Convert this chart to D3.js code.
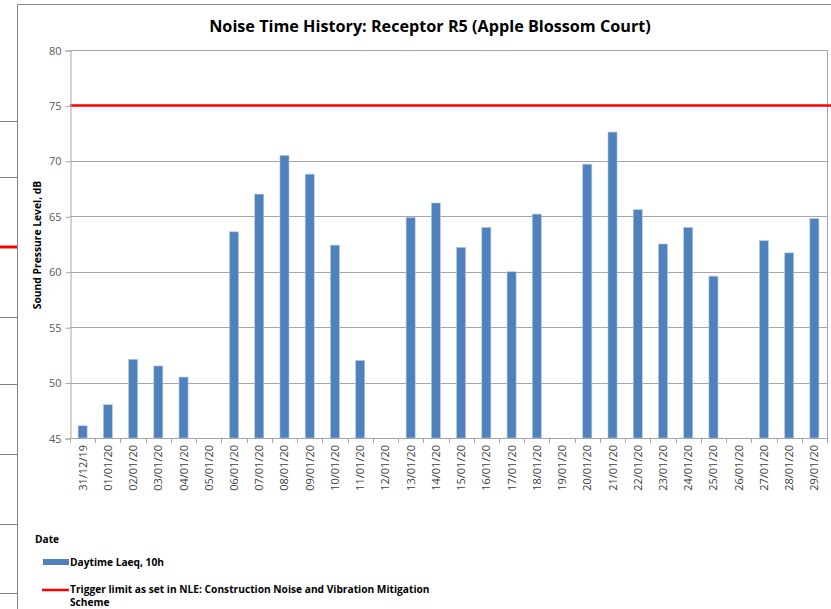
<!DOCTYPE html>
<html>
<head>
<meta charset="utf-8">
<script src="https://cdn.jsdelivr.net/npm/d3@7"></script>
<style>
  body { margin: 0; background: #fff; }
  svg { display: block; font-family: "Open Sans", "Liberation Sans", sans-serif; }
</style>
</head>
<body>
<svg id="chart"></svg>
<script>
let dates = ["31/12/19", "01/01/20", "02/01/20", "03/01/20", "04/01/20", "05/01/20", "06/01/20",
  "07/01/20", "08/01/20", "09/01/20", "10/01/20", "11/01/20", "12/01/20", "13/01/20", "14/01/20",
  "15/01/20", "16/01/20", "17/01/20", "18/01/20", "19/01/20", "20/01/20", "21/01/20", "22/01/20",
  "23/01/20", "24/01/20", "25/01/20", "26/01/20", "27/01/20", "28/01/20", "29/01/20"];
let laeq = [46.1, 48.0, 52.1, 51.5, 50.5, null, 63.6, 67.0, 70.5, 68.8, 62.4, 52.0, null, 64.9, 66.2,
  62.2, 64.0, 60.0, 65.2, null, 69.7, 72.6, 65.6, 62.5, 64.0, 59.6, null, 62.8, 61.7, 64.8];
let triggerLimit = 75;
let yTicks = [45, 50, 55, 60, 65, 70, 75, 80];

let width = 831;
let height = 609;
let plotLeft = 70, plotRight = 827, plotTop = 50, plotBottom = 438;

let svg = d3.select("#chart").attr("width", width).attr("height", height);

// bits of the neighbouring chart showing at the left edge
let strayLines = [121, 177, 317, 384, 454, 524, 593];
svg.selectAll(".stray").data(strayLines).enter().append("line")
  .attr("x1", 0).attr("x2", 17).attr("y1", d => d + 0.5).attr("y2", d => d + 0.5)
  .attr("stroke", "#808080").attr("stroke-width", 1);
svg.append("line").attr("x1", 0).attr("x2", 17).attr("y1", 247).attr("y2", 247)
  .attr("stroke", "#ff0000").attr("stroke-width", 3);

// chart frame
svg.append("line").attr("x1", 17.5).attr("x2", 17.5).attr("y1", 4.5).attr("y2", height)
  .attr("stroke", "#868686");
svg.append("line").attr("x1", 17.5).attr("x2", width).attr("y1", 4.5).attr("y2", 4.5)
  .attr("stroke", "#868686");

let xScale = d3.scaleBand().domain(dates).range([plotLeft, plotRight]).paddingInner(0.64).paddingOuter(0.32);
let yScale = d3.scaleLinear().domain([45, 80]).range([plotBottom, plotTop]);

// gridlines
svg.append("g").selectAll("line").data(yTicks).enter().append("line")
  .attr("x1", plotLeft).attr("x2", plotRight)
  .attr("y1", d => Math.round(yScale(d)) + 0.5).attr("y2", d => Math.round(yScale(d)) + 0.5)
  .attr("stroke", "#a6a6a6");
svg.append("line").attr("x1", plotRight + 0.5).attr("x2", plotRight + 0.5).attr("y1", plotTop).attr("y2", plotBottom)
  .attr("stroke", "#a6a6a6");

// bars
svg.append("g").selectAll("rect").data(laeq.map((v, i) => ({ d: dates[i], v: v })).filter(o => o.v != null))
  .enter().append("rect")
  .attr("x", o => xScale(o.d))
  .attr("width", xScale.bandwidth())
  .attr("y", o => yScale(o.v))
  .attr("height", o => yScale(45) - yScale(o.v))
  .attr("fill", "#4f81bd")
  .attr("stroke", "#b9cde5").attr("stroke-width", 0.6);

// trigger line
svg.append("line").attr("x1", plotLeft).attr("x2", width)
  .attr("y1", yScale(triggerLimit)).attr("y2", yScale(triggerLimit))
  .attr("stroke", "#ff0000").attr("stroke-width", 2.5);

// y axis
let yAxis = d3.axisLeft(yScale).tickValues(yTicks).tickSize(5).tickPadding(4);
let gy = svg.append("g").attr("transform", "translate(" + (plotLeft + 0.5) + ",0.5)").call(yAxis);
gy.select(".domain").attr("stroke", "#a6a6a6");
gy.selectAll(".tick line").attr("stroke", "#a6a6a6");
gy.selectAll("text").attr("fill", "#595959").style("font-size", "11px")
  .style("font-family", "'Open Sans', sans-serif");

// x axis: ticks sit on category boundaries
let boundaries = d3.range(dates.length + 1).map(i => plotLeft + i * (plotRight - plotLeft) / dates.length);
svg.append("line").attr("x1", plotLeft).attr("x2", plotRight).attr("y1", plotBottom + 0.5).attr("y2", plotBottom + 0.5)
  .attr("stroke", "#a6a6a6");
svg.append("g").selectAll("line").data(boundaries).enter().append("line")
  .attr("x1", d => Math.round(d) + 0.5).attr("x2", d => Math.round(d) + 0.5)
  .attr("y1", plotBottom).attr("y2", plotBottom + 5).attr("stroke", "#a6a6a6");
svg.append("g").selectAll("text").data(dates).enter().append("text")
  .attr("transform", d => "translate(" + (xScale(d) + xScale.bandwidth() / 2 + 4) + "," + (plotBottom + 7) + ") rotate(-90)")
  .attr("text-anchor", "end")
  .attr("fill", "#404040")
  .style("font-size", "11px")
  .text(d => d);

// title
svg.append("text").attr("x", 430).attr("y", 32).attr("text-anchor", "middle")
  .style("font-size", "16.2px").style("font-weight", "bold").attr("fill", "#000")
  .text("Noise Time History: Receptor R5 (Apple Blossom Court)");

// y label
svg.append("text").attr("transform", "translate(41,245) rotate(-90)").attr("text-anchor", "middle")
  .style("font-size", "10.3px").style("font-weight", "bold")
  .text("Sound Pressure Level, dB");

// legend
let legendFont = "10.2px";
svg.append("text").attr("x", 35).attr("y", 543).style("font-size", legendFont).style("font-weight", "bold")
  .text("Date");
svg.append("rect").attr("x", 43).attr("y", 559).attr("width", 26).attr("height", 6).attr("fill", "#4f81bd");
svg.append("text").attr("x", 70).attr("y", 566).style("font-size", legendFont).style("font-weight", "bold")
  .text("Daytime Laeq, 10h");
svg.append("line").attr("x1", 42).attr("x2", 69).attr("y1", 590).attr("y2", 590)
  .attr("stroke", "#ff0000").attr("stroke-width", 2.5);
svg.append("text").attr("x", 70).attr("y", 593).style("font-size", legendFont).style("font-weight", "bold")
  .text("Trigger limit as set in NLE: Construction Noise and Vibration Mitigation");
svg.append("text").attr("x", 70).attr("y", 606).style("font-size", legendFont).style("font-weight", "bold")
  .text("Scheme");
</script>
</body>
</html>
